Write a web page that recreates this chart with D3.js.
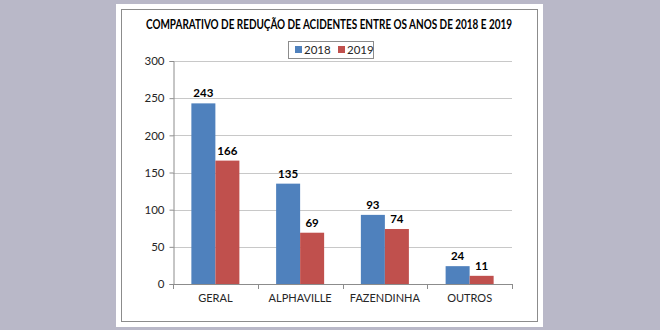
<!DOCTYPE html>
<html>
<head>
<meta charset="utf-8">
<script src="https://cdn.jsdelivr.net/npm/d3@7"></script>
<style>
  html, body { margin: 0; padding: 0; background: #b9b8c8; }
  svg { display: block; }
  text { font-family: Lato, "Open Sans", sans-serif; fill: #262626; }
</style>
</head>
<body>
<div id="chart"></div>
<script>
var categories = ["GERAL", "ALPHAVILLE", "FAZENDINHA", "OUTROS"];
var years = ["2018", "2019"];
var values2018 = [243, 135, 93, 24];
var values2019 = [166, 69, 74, 11];
var yTicks = [0, 50, 100, 150, 200, 250, 300];
var title = "COMPARATIVO DE REDUÇÃO DE ACIDENTES ENTRE OS ANOS DE 2018 E 2019";

var width = 660,
	height = 330,
	plot = { left: 173, right: 512, top: 61, bottom: 284 };

var colors = d3.scaleOrdinal().domain(years).range(["#4f81bd", "#c0504d"]);

var rows = categories.map(function(c, i) {
	return { cat: c, vals: [
		{ year: "2018", v: values2018[i] },
		{ year: "2019", v: values2019[i] }
	] };
});

var svg = d3.select("#chart").append("svg")
	.attr("width", width)
	.attr("height", height);

// white card with thin frame
svg.append("rect")
	.attr("x", 116).attr("y", 4)
	.attr("width", 427).attr("height", 323)
	.attr("fill", "#ffffff");
svg.append("rect")
	.attr("x", 121.5).attr("y", 9.5)
	.attr("width", 416).attr("height", 312)
	.attr("fill", "none")
	.attr("stroke", "#8c8c8c")
	.attr("stroke-width", 1);

svg.append("text")
	.attr("x", 329).attr("y", 29)
	.attr("text-anchor", "middle")
	.attr("textLength", 366)
	.attr("lengthAdjust", "spacingAndGlyphs")
	.style("font-size", "12.5px")
	.style("font-weight", "bold")
	.style("fill", "#000")
	.text(title);

var xScale = d3.scaleBand().domain(categories).range([plot.left, plot.right]).padding(0);
var xInner = d3.scaleBand().domain(years).range([0, xScale.bandwidth()]).paddingInner(0).paddingOuter(0.765);
var yScale = d3.scaleLinear().domain([0, 300]).range([plot.bottom, plot.top]);

// gridlines
svg.append("g").selectAll("line")
	.data(yTicks.filter(function(d) { return d > 0; }))
	.enter().append("line")
	.attr("x1", plot.left).attr("x2", plot.right)
	.attr("y1", function(d) { return Math.round(yScale(d)) + 0.5; })
	.attr("y2", function(d) { return Math.round(yScale(d)) + 0.5; })
	.attr("stroke", "#c8c8c8");

// y axis
var yAxis = d3.axisLeft(yScale).tickValues(yTicks).tickSize(4).tickPadding(5);
var yg = svg.append("g")
	.attr("transform", "translate(" + (plot.left + 0.5) + ",0)")
	.call(yAxis);
yg.select(".domain").attr("stroke", "#8c8c8c");
yg.selectAll(".tick line").attr("stroke", "#8c8c8c");
yg.selectAll(".tick text")
	.style("font-size", "11.5px")
	.style("font-family", "Lato, sans-serif")
	.attr("fill", "#333");

// bars
var groups = svg.append("g").selectAll("g")
	.data(rows)
	.enter().append("g")
	.attr("transform", function(d) { return "translate(" + xScale(d.cat) + ",0)"; });

groups.selectAll("rect")
	.data(function(d) { return d.vals; })
	.enter().append("rect")
	.attr("x", function(d) { return xInner(d.year); })
	.attr("y", function(d) { return yScale(d.v); })
	.attr("width", xInner.bandwidth())
	.attr("height", function(d) { return plot.bottom - yScale(d.v); })
	.attr("fill", function(d) { return colors(d.year); });

groups.selectAll("text.val")
	.data(function(d) { return d.vals; })
	.enter().append("text")
	.attr("class", "val")
	.attr("x", function(d) { return xInner(d.year) + xInner.bandwidth() / 2; })
	.attr("y", function(d) { return yScale(d.v) - 6; })
	.attr("text-anchor", "middle")
	.style("font-size", "11.5px")
	.style("font-weight", "bold")
	.style("fill", "#000")
	.text(function(d) { return d.v; });

// x axis line with ticks on category boundaries
var xg = svg.append("g");
xg.append("line")
	.attr("x1", plot.left).attr("x2", plot.right)
	.attr("y1", plot.bottom + 0.5).attr("y2", plot.bottom + 0.5)
	.attr("stroke", "#8c8c8c");
var bounds = categories.map(function(c) { return xScale(c); }).concat([plot.right]);
xg.selectAll("line.tick")
	.data(bounds)
	.enter().append("line")
	.attr("class", "tick")
	.attr("x1", function(d) { return Math.round(d) + 0.5; })
	.attr("x2", function(d) { return Math.round(d) + 0.5; })
	.attr("y1", plot.bottom).attr("y2", plot.bottom + 5)
	.attr("stroke", "#8c8c8c");
xg.selectAll("text")
	.data(categories)
	.enter().append("text")
	.attr("x", function(d) { return xScale(d) + xScale.bandwidth() / 2; })
	.attr("y", plot.bottom + 18)
	.attr("text-anchor", "middle")
	.style("font-size", "11px")
	.attr("fill", "#333")
	.text(function(d) { return d; });

// legend
var legend = svg.append("g");
legend.append("rect")
	.attr("x", 288.5).attr("y", 41.5)
	.attr("width", 85).attr("height", 17)
	.attr("fill", "#fff")
	.attr("stroke", "#8c8c8c");
var items = legend.selectAll("g")
	.data(years)
	.enter().append("g")
	.attr("transform", function(d, i) { return "translate(" + (295 + i * 43) + ",0)"; });
items.append("rect")
	.attr("x", 0).attr("y", 46)
	.attr("width", 7).attr("height", 7)
	.attr("fill", function(d) { return colors(d); });
items.append("text")
	.attr("x", 9).attr("y", 54)
	.style("font-size", "11.5px")
	.text(function(d) { return d; });
</script>
</body>
</html>
